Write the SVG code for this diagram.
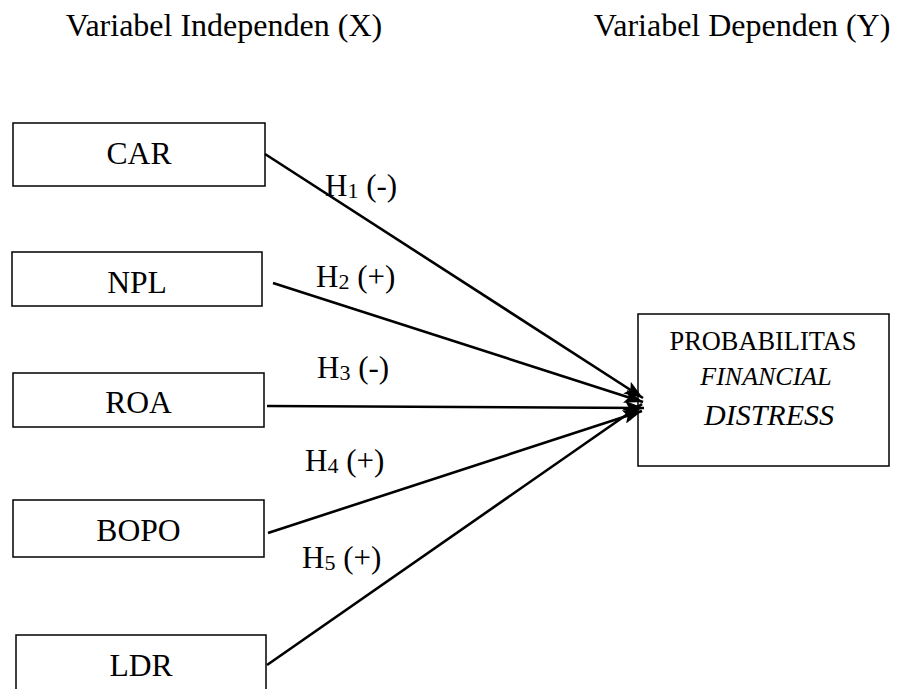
<svg xmlns="http://www.w3.org/2000/svg" width="898" height="689" viewBox="0 0 898 689">
<style>
text{font-family:"Liberation Serif","Times New Roman",serif;fill:#000}
.hd{font-size:32px;text-anchor:middle}
.nd rect{fill:#fff;stroke:#000;stroke-width:1.5}
.nd text{font-size:31.6px;text-anchor:middle}
.lb{font-size:31px}
.sb{font-size:22px}
.cn line{stroke:#000;stroke-width:2.6;marker-end:url(#ah)}
</style>
<defs>
<marker id="ah" markerUnits="userSpaceOnUse" markerWidth="20" markerHeight="14" viewBox="0 0 20 14" refX="19" refY="7" orient="auto">
<path d="M0,0 L19,7 L0,14 L4,7 Z" fill="#000"/>
</marker>
</defs>
<rect width="898" height="689" fill="#fff"/>
<text class="hd" x="224" y="36">Variabel Independen (X)</text>
<text class="hd" x="742" y="36">Variabel Dependen (Y)</text>
<g id="car" class="nd"><rect x="13" y="123" width="252" height="63"/><text x="139" y="164">CAR</text></g>
<g id="npl" class="nd"><rect x="12" y="252" width="250" height="54"/><text x="137" y="293">NPL</text></g>
<g id="roa" class="nd"><rect x="13" y="373" width="251" height="54"/><text x="138.5" y="413">ROA</text></g>
<g id="bopo" class="nd"><rect x="13" y="500" width="251" height="57"/><text x="138.5" y="541">BOPO</text></g>
<g id="ldr" class="nd"><rect x="16" y="635" width="250" height="70"/><text x="141" y="676">LDR</text></g>
<g id="fd" class="nd"><rect x="638" y="314" width="251" height="152"/>
<text x="763" y="350" style="font-size:26.4px">PROBABILITAS</text>
<text x="766" y="385" style="font-size:26px;font-style:italic">FINANCIAL</text>
<text x="769" y="425" style="font-size:30px;font-style:italic">DISTRESS</text></g>
<g id="connectors" class="cn">
<line x1="265" y1="154" x2="643" y2="398"/>
<line x1="273" y1="283" x2="643" y2="402"/>
<line x1="267" y1="406" x2="644" y2="408"/>
<line x1="268" y1="533" x2="642" y2="411"/>
<line x1="267" y1="665" x2="642" y2="404"/>
</g>
<g id="labels">
<text class="lb" x="325" y="196">H<tspan class="sb" dy="2">1</tspan><tspan dy="-2"> (-)</tspan></text>
<text class="lb" x="316" y="287">H<tspan class="sb" dy="2">2</tspan><tspan dy="-2"> (+)</tspan></text>
<text class="lb" x="317" y="378">H<tspan class="sb" dy="2">3</tspan><tspan dy="-2"> (-)</tspan></text>
<text class="lb" x="305" y="471">H<tspan class="sb" dy="2">4</tspan><tspan dy="-2"> (+)</tspan></text>
<text class="lb" x="302" y="568">H<tspan class="sb" dy="2">5</tspan><tspan dy="-2"> (+)</tspan></text>
</g>
</svg>
